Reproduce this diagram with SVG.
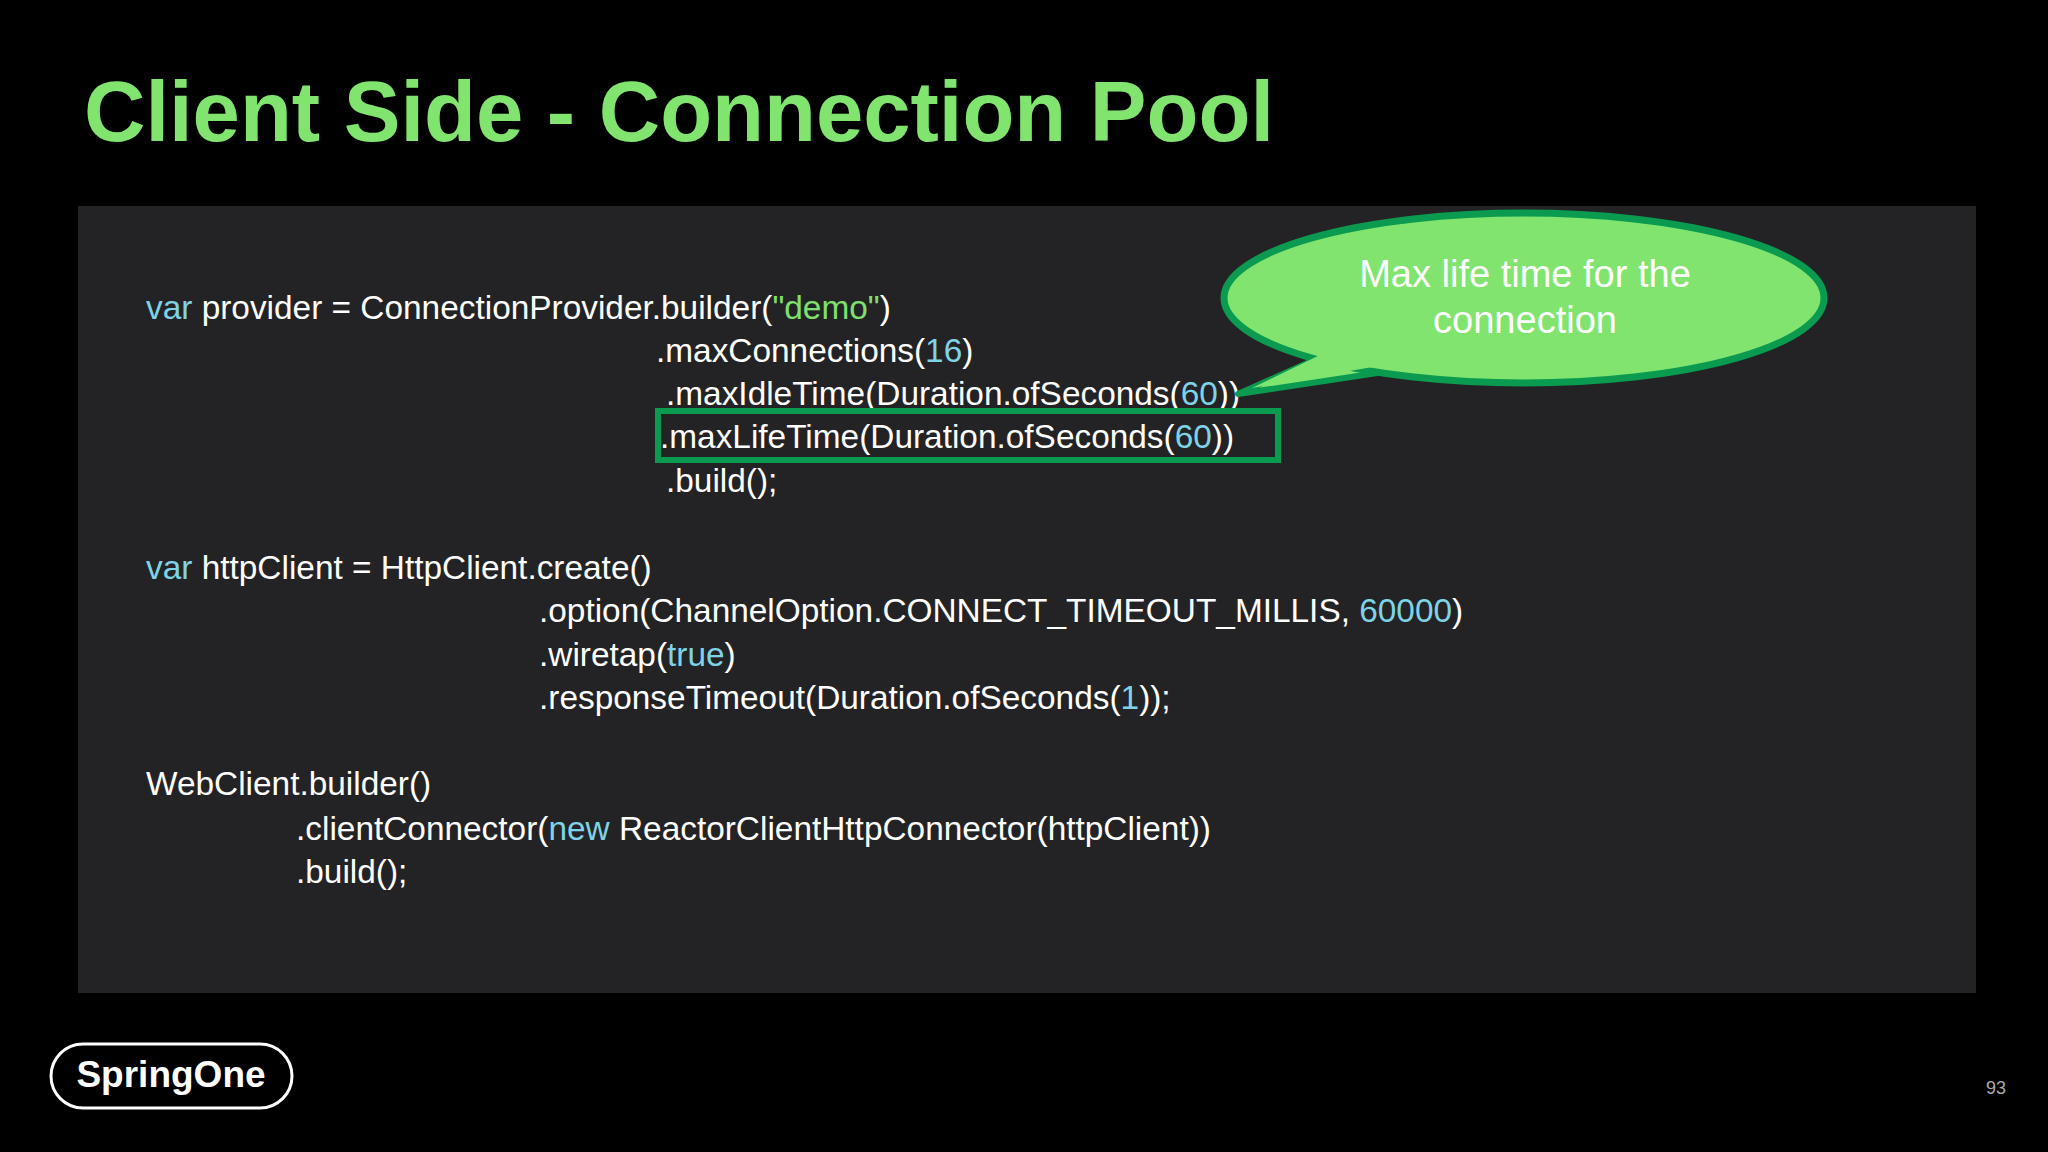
<svg xmlns="http://www.w3.org/2000/svg" width="2048" height="1152" viewBox="0 0 2048 1152">
<style>
.c{font-family:"Liberation Sans",Arial,sans-serif;font-size:33.4px;fill:#ffffff}
.k{fill:#7fd3e6}
.s{fill:#7fe06e}
</style>
<rect width="2048" height="1152" fill="#000"/>
<text x="84" y="141" font-family="Liberation Sans,Arial,sans-serif" font-weight="bold" font-size="85" fill="#80e46e">Client Side - Connection Pool</text>
<rect x="78" y="206" width="1898" height="787" fill="#232325"/>
<g id="code">
<text class="c" x="146" y="319"><tspan class="k">var</tspan> provider = ConnectionProvider.builder(<tspan class="s">"demo"</tspan>)</text>
<text class="c" x="656" y="362">.maxConnections(<tspan class="k">16</tspan>)</text>
<text class="c" x="666" y="405">.maxIdleTime(Duration.ofSeconds(<tspan class="k">60</tspan>))</text>
<text class="c" x="660" y="448">.maxLifeTime(Duration.ofSeconds(<tspan class="k">60</tspan>))</text>
<text class="c" x="666" y="492">.build();</text>
<text class="c" x="146" y="579"><tspan class="k">var</tspan> httpClient = HttpClient.create()</text>
<text class="c" x="539" y="622">.option(ChannelOption.CONNECT_TIMEOUT_MILLIS, <tspan class="k">60000</tspan>)</text>
<text class="c" x="539" y="666">.wiretap(<tspan class="k">true</tspan>)</text>
<text class="c" x="539" y="709">.responseTimeout(Duration.ofSeconds(<tspan class="k">1</tspan>));</text>
<text class="c" x="146" y="795">WebClient.builder()</text>
<text class="c" x="296" y="840">.clientConnector(<tspan class="k">new</tspan> ReactorClientHttpConnector(httpClient))</text>
<text class="c" x="296" y="883">.build();</text>
</g>
<g id="highlight">
<rect x="658" y="411" width="620" height="49" fill="none" stroke="#0a9a50" stroke-width="6"/>
</g>
<g id="callout">
<path d="M1332,352 L1238,394 L1384,372 Z" fill="#80e46e" stroke="#0a9a50" stroke-width="6" stroke-linejoin="round"/>
<ellipse cx="1524" cy="298" rx="300" ry="85" fill="#80e46e" stroke="#0a9a50" stroke-width="7"/>
<path d="M1326,352 L1252,388 L1390,364 Z" fill="#80e46e"/>
<text x="1525" y="287" text-anchor="middle" font-family="Liberation Sans,Arial,sans-serif" font-size="38" fill="#fff">Max life time for the</text>
<text x="1525" y="333" text-anchor="middle" font-family="Liberation Sans,Arial,sans-serif" font-size="38" fill="#fff">connection</text>
</g>
<g id="logo">
<rect x="51" y="1044" width="241" height="64" rx="32" fill="none" stroke="#fff" stroke-width="3"/>
<text x="171" y="1087" text-anchor="middle" font-family="Liberation Sans,Arial,sans-serif" font-weight="bold" font-size="37" fill="#fff">SpringOne</text>
</g>
<text x="1996" y="1094" text-anchor="middle" font-family="Liberation Sans,Arial,sans-serif" font-size="18" fill="#aaa">93</text>
</svg>
